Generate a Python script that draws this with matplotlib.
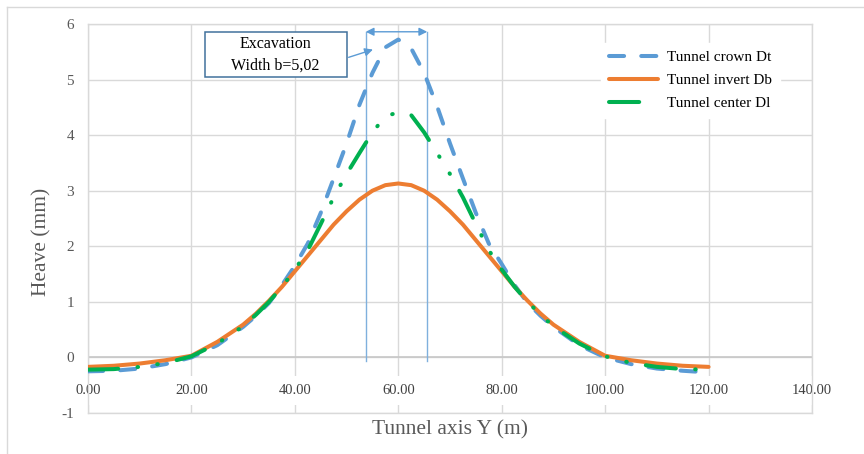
import matplotlib.pyplot as plt
from matplotlib.patches import Rectangle
from matplotlib.lines import Line2D

plt.rcParams['font.family'] = ['Liberation Serif', 'DejaVu Serif']
plt.rcParams['axes.unicode_minus'] = False

# distance along tunnel axis Y (m)
pos_y = [0, 5, 10, 15, 20, 25, 30, 32.5, 35, 37.5, 40, 42.5, 45, 47.5, 50, 52.5, 55, 57.5,
         60, 62.5, 65, 67.5, 70, 72.5, 75, 77.5, 80, 82.5, 85, 87.5, 90, 95, 100, 105, 110, 115, 120]

# heave values (mm)
crown_dt = [-0.25, -0.24, -0.20, -0.12, 0.00, 0.22, 0.55, 0.75, 0.98, 1.30, 1.65, 2.05, 2.60, 3.22,
            3.85, 4.55, 5.12, 5.58, 5.72, 5.56, 5.12, 4.52, 3.85, 3.22, 2.60, 2.05, 1.68, 1.30,
            0.98, 0.75, 0.55, 0.22, 0.00, -0.12, -0.20, -0.24, -0.27]
invert_db = [-0.17, -0.15, -0.11, -0.05, 0.03, 0.28, 0.59, 0.79, 1.02, 1.27, 1.55, 1.83, 2.11, 2.39,
             2.63, 2.84, 3.00, 3.10, 3.13, 3.10, 3.00, 2.84, 2.63, 2.39, 2.11, 1.83, 1.55, 1.27,
             1.02, 0.79, 0.59, 0.28, 0.03, -0.05, -0.11, -0.15, -0.17]
center_dl = [-0.22, -0.21, -0.17, -0.10, 0.02, 0.25, 0.56, 0.77, 1.00, 1.27, 1.58, 1.93, 2.40, 2.88,
             3.30, 3.68, 4.05, 4.34, 4.41, 4.36, 4.05, 3.68, 3.30, 2.88, 2.40, 1.93, 1.58, 1.27,
             1.00, 0.77, 0.56, 0.25, 0.02, -0.10, -0.17, -0.21, -0.22]

x_ticks = [0, 20, 40, 60, 80, 100, 120, 140]
y_ticks = [-1, 0, 1, 2, 3, 4, 5, 6]

# excavation limits
exc_left, exc_right = 53.7, 65.6

fig = plt.figure(figsize=(8.64, 4.54), dpi=100)
ax = fig.add_axes([88/864, 41/454, 724/864, 389/454])

ax.plot(pos_y, crown_dt, color='#5B9BD5', lw=2.9, dashes=(3.75, 4.25),
        dash_capstyle='round', label='Tunnel crown Dt', zorder=3)
ax.plot(pos_y, invert_db, color='#ED7D31', lw=2.9, solid_capstyle='round',
        label='Tunnel invert Db', zorder=3)
ax.plot(pos_y, center_dl, color='#00B050', lw=2.9, dashes=(7.5, 4.8, 0.15, 4.8, 0.15, 4.8),
        dash_capstyle='round', label='Tunnel center Dl', zorder=3)

ax.set_xlim(0, 140)
ax.set_ylim(-1, 6)
ax.set_xticks(x_ticks)
ax.set_yticks(y_ticks)
ax.set_xticklabels([])
ax.set_axisbelow(True)
ax.grid(True, color='#D9D9D9', lw=1)
ax.tick_params(axis='x', length=0)
ax.tick_params(axis='y', length=0, labelsize=11, labelcolor='#595959', pad=10)
for s in ax.spines.values():
    s.set_color('#D9D9D9')
    s.set_linewidth(1)
ax.axhline(0, color='#C8C8C8', lw=1.2, zorder=1)

for t in x_ticks:
    ax.text(t, -0.6, '%.2f' % t, ha='center', va='center', fontsize=10.5, color='#404040',
            zorder=2, bbox=dict(boxstyle='square,pad=0.55', fc='white', ec='none'))

# excavation annotation
ax.plot([exc_left, exc_left], [5.86, -0.07], color='#7FB0DD', lw=1, zorder=2)
ax.plot([exc_right, exc_right], [5.86, -0.07], color='#7FB0DD', lw=1, zorder=2)
ax.annotate('', xy=(exc_left, 5.86), xytext=(exc_right, 5.86),
            arrowprops=dict(arrowstyle='<|-|>', color='#5B9BD5', lw=1,
                            shrinkA=0, shrinkB=0, mutation_scale=12))
ax.add_patch(Rectangle((22.6, 5.05), 27.4, 0.8, fc='white', ec='#41719C', lw=1.1, zorder=4))
ax.text(36.2, 5.44, 'Excavation\nWidth b=5,02', ha='center', va='center', fontsize=11.5,
        linespacing=1.45, zorder=5)
ax.annotate('', xy=(55.1, 5.54), xytext=(50.4, 5.4),
            arrowprops=dict(arrowstyle='-|>', color='#5B9BD5', lw=1,
                            shrinkA=0, shrinkB=0, mutation_scale=12))

leg = ax.legend(loc='upper left', bbox_to_anchor=(0.7086, 0.951), borderaxespad=0,
                frameon=True, facecolor='white', edgecolor='white', framealpha=1,
                fancybox=False, handlelength=3.2, handletextpad=0.65, labelspacing=0.6,
                borderpad=0.5, fontsize=11)
leg.set_zorder(6)

fig.text(42/864, 212/454, 'Heave (mm)', rotation=90, ha='center', va='center',
         fontsize=15.5, color='#595959')
fig.text(450/864, 24/454, 'Tunnel axis Y (m)', ha='center', va='center',
         fontsize=15.5, color='#595959')

# outer chart border (cropped at right and bottom)
fig.add_artist(Line2D([7/864, 1], [1 - 7/454, 1 - 7/454], transform=fig.transFigure,
                      color='#D9D9D9', lw=1))
fig.add_artist(Line2D([7/864, 7/864], [0, 1 - 7/454], transform=fig.transFigure,
                      color='#D9D9D9', lw=1))

fig.savefig('out.png', dpi=100)
